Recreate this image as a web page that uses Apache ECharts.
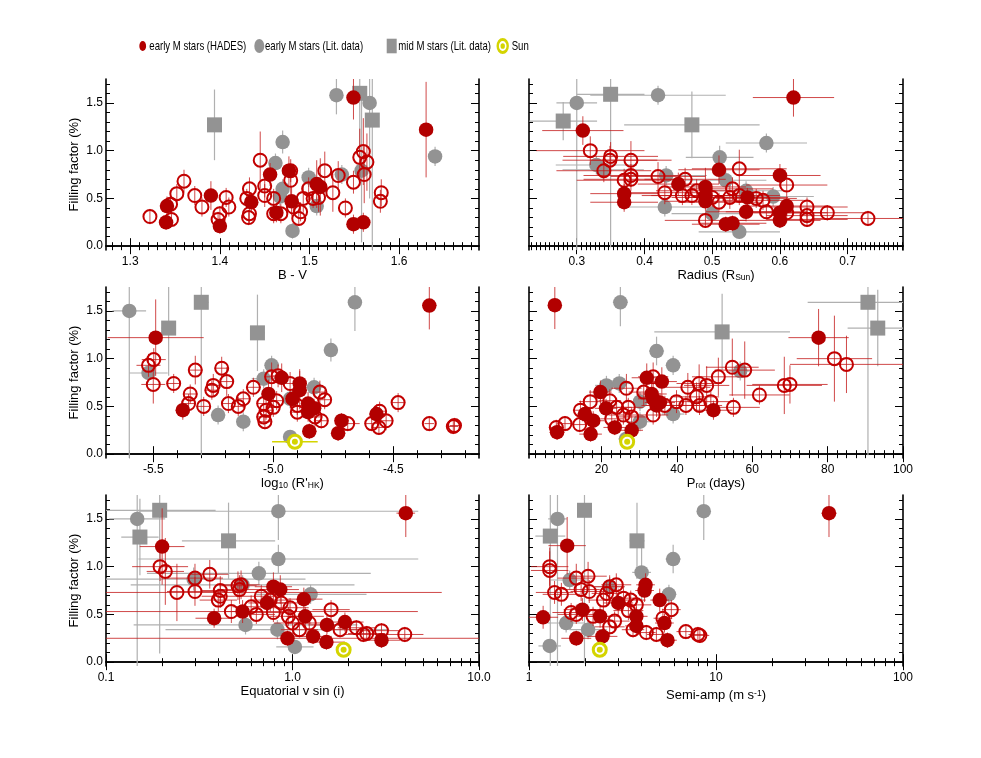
<!DOCTYPE html>
<html><head><meta charset="utf-8">
<script src="https://cdn.jsdelivr.net/npm/echarts@6/dist/echarts.min.js"></script>
<style>html,body{margin:0;padding:0;background:#fff}#c{width:981px;height:758px}</style>
</head><body><div id="c"></div>
<script>
// ---------------- DATA: [x, y, xErr, yErr] (log panels: xErr in dex) ----------------
const yTicks = [0.0, 0.5, 1.0, 1.5];
const legendNames = ['early M stars (HADES)', 'early M stars (Lit. data)', 'mid M stars (Lit. data)', 'Sun'];

// Panel 1: B - V
const bvTicks = [1.3, 1.4, 1.5, 1.6];
const bvFilled = [[1.549,1.556,0,0.23],[1.63,1.22,0,0.5],[1.477,0.79,0,0.15],[1.456,0.75,0,0.12],[1.508,0.65,0,0.25],[1.512,0.62,0,0.3],[1.39,0.53,0,0.15],[1.435,0.46,0,0.1],[1.48,0.47,0,0.15],[1.341,0.42,0,0.1],[1.34,0.25,0,0.08],[1.463,0.35,0,0.1],[1.40,0.21,0,0.08],[1.549,0.23,0,0.1],[1.56,0.25,0,0.1]];
const bvOpen = [[1.322,0.31,0,0.08],[1.345,0.44,0,0.1],[1.346,0.28,0,0.08],[1.352,0.55,0,0.1],[1.36,0.68,0,0.12],[1.372,0.53,0,0.1],[1.38,0.41,0,0.1],[1.40,0.34,0,0.08],[1.398,0.28,0,0.08],[1.407,0.51,0,0.1],[1.41,0.41,0,0.1],[1.43,0.50,0,0.1],[1.432,0.30,0,0.08],[1.433,0.34,0,0.1],[1.433,0.60,0,0.12],[1.445,0.90,0,0.3],[1.45,0.63,0,0.12],[1.45,0.53,0,0.12],[1.46,0.50,0,0.1],[1.46,0.34,0,0.1],[1.468,0.34,0,0.1],[1.479,0.79,0,0.12],[1.479,0.69,0,0.15],[1.482,0.41,0,0.1],[1.488,0.29,0,0.08],[1.49,0.36,0,0.1],[1.493,0.50,0,0.15],[1.499,0.60,0,0.12],[1.504,0.50,0,0.1],[1.517,0.79,0,0.2],[1.51,0.51,0,0.15],[1.526,0.56,0,0.2],[1.532,0.74,0,0.15],[1.54,0.40,0,0.1],[1.549,0.67,0,0.12],[1.556,0.93,0,0.3],[1.56,0.99,0,0.35],[1.564,0.88,0,0.3],[1.561,0.75,0,0.3],[1.58,0.56,0,0.14],[1.579,0.47,0,0.12]];
const bvLit = [[1.53,1.58,0,0.2],[1.567,1.50,0,1.0],[1.47,1.09,0,0.12],[1.64,0.94,0,0.1],[1.462,0.87,0,0.1],[1.558,0.79,0,0.75],[1.47,0.60,0,0.1],[1.467,0.52,0,0.1],[1.499,0.72,0,0.1],[1.508,0.42,0,0.1],[1.481,0.16,0,0.08],[1.536,0.75,0,0.1]];
const bvMid = [[1.394,1.27,0,0.37],[1.556,1.60,0,0.8],[1.57,1.32,0,1.4]];

// Panel 2: Radius
const radTicks = [0.3, 0.4, 0.5, 0.6, 0.7];
const radFilled = [[0.62,1.556,0.06,0.2],[0.309,1.21,0.06,0.15],[0.51,0.80,0.06,0.15],[0.60,0.74,0.06,0.12],[0.45,0.65,0.06,0.12],[0.49,0.62,0.06,0.2],[0.49,0.53,0.06,0.12],[0.49,0.47,0.06,0.1],[0.37,0.55,0.05,0.1],[0.37,0.46,0.05,0.1],[0.552,0.51,0.06,0.1],[0.55,0.36,0.06,0.1],[0.61,0.42,0.06,0.1],[0.60,0.27,0.06,0.08],[0.60,0.35,0.06,0.08],[0.52,0.23,0.05,0.08],[0.53,0.24,0.05,0.08]];
const radOpen = [[0.32,1.0,0.08,0.15],[0.35,0.94,0.07,0.15],[0.349,0.90,0.07,0.15],[0.38,0.90,0.06,0.2],[0.34,0.79,0.07,0.12],[0.38,0.74,0.07,0.12],[0.38,0.70,0.07,0.12],[0.37,0.69,0.07,0.12],[0.42,0.73,0.07,0.15],[0.43,0.56,0.07,0.12],[0.46,0.70,0.06,0.12],[0.456,0.53,0.06,0.1],[0.47,0.53,0.06,0.1],[0.49,0.27,0.06,0.08],[0.50,0.51,0.06,0.1],[0.51,0.46,0.06,0.1],[0.53,0.60,0.06,0.12],[0.526,0.51,0.06,0.12],[0.54,0.81,0.07,0.2],[0.565,0.50,0.06,0.1],[0.575,0.48,0.06,0.1],[0.58,0.36,0.06,0.08],[0.61,0.64,0.06,0.12],[0.61,0.35,0.06,0.1],[0.64,0.41,0.06,0.1],[0.64,0.32,0.06,0.08],[0.64,0.28,0.06,0.08],[0.67,0.35,0.06,0.08],[0.73,0.29,0.08,0.08],[0.477,0.58,0.06,0.12],[0.54,0.53,0.06,0.1]];
const radLit = [[0.30,1.50,0.03,1.55],[0.42,1.58,0.1,0.1],[0.58,1.08,0.06,0.1],[0.511,0.93,0.05,0.12],[0.329,0.85,0.06,0.1],[0.339,0.80,0.06,0.1],[0.432,0.74,0.06,0.1],[0.52,0.69,0.06,0.1],[0.55,0.58,0.06,0.1],[0.59,0.52,0.06,0.1],[0.43,0.41,0.06,0.1],[0.54,0.15,0.06,0.06],[0.50,0.34,0.06,0.1]];
const radMid = [[0.28,1.31,0.05,0.2],[0.35,1.59,0.05,1.6],[0.47,1.27,0.1,0.35]];

// Panel 3: log10(R'HK)
const rhkTicks = [-5.5, -5.0, -4.5];
const rhkFilled = [[-4.35,1.556,0.03,0.25],[-5.49,1.22,0.2,0.4],[-4.965,0.80,0.03,0.15],[-4.89,0.74,0.03,0.15],[-4.89,0.67,0.03,0.2],[-5.02,0.63,0.03,0.15],[-4.92,0.58,0.03,0.1],[-4.855,0.53,0.03,0.12],[-4.83,0.48,0.03,0.1],[-4.855,0.44,0.03,0.1],[-5.377,0.46,0.03,0.1],[-4.85,0.24,0.03,0.08],[-4.716,0.35,0.03,0.08],[-4.73,0.22,0.03,0.08],[-4.57,0.42,0.03,0.1]];
const rhkOpen = [[-5.52,0.93,0.05,0.12],[-5.498,0.99,0.05,0.12],[-5.50,0.73,0.05,0.2],[-5.415,0.74,0.03,0.1],[-5.346,0.63,0.03,0.1],[-5.325,0.88,0.03,0.15],[-5.353,0.53,0.03,0.1],[-5.29,0.50,0.03,0.1],[-5.25,0.72,0.03,0.12],[-5.256,0.67,0.03,0.1],[-5.215,0.90,0.03,0.12],[-5.194,0.76,0.03,0.15],[-5.187,0.53,0.03,0.1],[-5.146,0.50,0.03,0.1],[-5.125,0.58,0.03,0.1],[-5.083,0.70,0.03,0.1],[-5.04,0.39,0.03,0.08],[-5.035,0.34,0.03,0.08],[-5.04,0.53,0.03,0.1],[-5.03,0.46,0.03,0.1],[-5.0,0.49,0.03,0.1],[-4.986,0.56,0.03,0.1],[-5.007,0.81,0.03,0.15],[-4.98,0.82,0.03,0.12],[-4.93,0.74,0.03,0.12],[-4.90,0.44,0.03,0.1],[-4.90,0.51,0.03,0.1],[-4.826,0.39,0.03,0.1],[-4.80,0.35,0.03,0.08],[-4.806,0.65,0.03,0.12],[-4.786,0.57,0.03,0.1],[-4.69,0.32,0.05,0.08],[-4.59,0.32,0.03,0.08],[-4.557,0.45,0.03,0.1],[-4.56,0.28,0.03,0.08],[-4.53,0.35,0.03,0.1],[-4.48,0.54,0.03,0.1],[-4.35,0.32,0.02,0.08],[-4.25,0.29,0.02,0.08],[-4.245,0.30,0.02,0.08]];
const rhkLit = [[-5.60,1.50,0.07,1.55],[-4.66,1.59,0.02,0.3],[-4.76,1.09,0.02,0.12],[-5.007,0.93,0.03,0.1],[-5.52,0.85,0.08,0.1],[-5.04,0.79,0.05,0.1],[-4.83,0.70,0.05,0.1],[-5.23,0.41,0.03,0.1],[-5.125,0.34,0.03,0.1],[-4.93,0.18,0.02,0.06],[-4.93,0.58,0.03,0.1]];
const rhkMid = [[-5.436,1.32,0.03,0.5],[-5.30,1.59,0.03,1.6],[-5.066,1.27,0.03,0.4]];
const rhkSun = [[-4.91,0.13,0.095,0]];

// Panel 4: Prot (days)
const protTicks = [20, 40, 60, 80, 100];
const protFilled = [[7.6,1.56,1,0.25],[77.6,1.22,8,0.3],[32,0.80,4,0.15],[36,0.76,4,0.15],[19.7,0.65,3,0.12],[33.3,0.63,4,0.15],[33.7,0.58,4,0.12],[34.6,0.51,4,0.12],[35.5,0.54,4,0.1],[21.2,0.48,3,0.1],[15.6,0.42,2,0.1],[17.8,0.35,3,0.1],[49.7,0.46,5,0.1],[23.5,0.28,3,0.08],[28,0.25,3,0.08],[17.1,0.21,3,0.08],[8.2,0.23,2,0.08]];
const protOpen = [[8,0.28,2,0.08],[10.3,0.32,2,0.08],[14.4,0.46,2,0.1],[14.2,0.31,2,0.08],[17,0.55,3,0.12],[22.2,0.56,3,0.12],[24,0.49,4,0.1],[26.6,0.69,4,0.15],[27.1,0.49,4,0.1],[22.7,0.37,3,0.1],[25.8,0.41,4,0.1],[28,0.39,4,0.1],[31.2,0.65,4,0.15],[33.7,0.81,4,0.15],[33.7,0.41,4,0.1],[36.8,0.51,5,0.1],[39.9,0.55,5,0.12],[42.4,0.51,5,0.1],[42.9,0.70,6,0.15],[45.2,0.60,6,0.15],[45.9,0.74,6,0.2],[46,0.51,6,0.1],[47.9,0.72,6,0.2],[49,0.55,6,0.12],[51,0.81,7,0.2],[55,0.49,7,0.1],[54.7,0.91,7,0.3],[58,0.88,8,0.3],[61.9,0.62,8,0.1],[68.5,0.72,10,0.3],[70,0.73,10,0.2],[81.8,1.0,10,0.45],[85,0.94,15,0.3]];
const protLit = [[25,1.59,2,0.25],[34.6,1.08,2,0.15],[39,0.93,2,0.1],[56.8,0.87,3,0.1],[21.3,0.72,3,0.1],[24.7,0.74,3,0.1],[30.2,0.55,3,0.1],[39,0.42,3,0.1],[30.2,0.34,3,0.1],[26.5,0.16,2,0.06]];
const protMid = [[52,1.28,18,0.4],[90.7,1.59,16,1.6],[93.3,1.32,8,0.4]];
const protSun = [[26.8,0.13,0,0]];

// Panel 5: Equatorial v sin(i)
const vsiniTicks = [0.1, 1.0, 10.0];
const vsiniFilled = [[4.05,1.56,0.05,0.25],[0.2,1.21,0.12,0.4],[0.79,0.79,0.1,0.15],[0.86,0.76,0.1,0.15],[1.15,0.66,0.1,0.12],[0.73,0.62,0.1,0.12],[0.54,0.53,0.1,0.12],[1.17,0.48,0.1,0.1],[0.38,0.46,0.1,0.1],[1.53,0.39,0.1,0.1],[1.91,0.42,0.1,0.1],[0.94,0.25,1.1,0.08],[1.29,0.27,0.1,0.08],[1.52,0.21,0.1,0.08],[3.0,0.23,0.1,0.08]];
const vsiniOpen = [[0.195,1.0,0.15,0.15],[0.208,0.95,0.1,0.35],[0.24,0.73,1.42,0.3],[0.30,0.88,0.15,0.15],[0.30,0.74,0.15,0.15],[0.36,0.92,0.1,0.15],[0.41,0.75,0.1,0.15],[0.40,0.65,0.1,0.12],[0.41,0.69,0.1,0.12],[0.47,0.53,1.0,0.12],[0.51,0.80,0.1,0.15],[0.52,0.76,0.1,0.15],[0.53,0.81,0.1,0.15],[0.60,0.58,0.1,0.12],[0.64,0.50,0.1,0.1],[0.68,0.69,0.1,0.12],[0.76,0.65,0.1,0.12],[0.79,0.52,0.1,0.1],[0.87,0.62,0.1,0.12],[0.97,0.57,0.1,0.1],[0.95,0.48,0.1,0.1],[1.0,0.41,0.1,0.1],[1.09,0.34,0.1,0.08],[1.23,0.41,0.1,0.1],[1.61,0.55,0.1,0.1],[1.8,0.34,0.1,0.08],[2.2,0.36,0.1,0.08],[2.4,0.29,0.1,0.08],[2.5,0.30,0.1,0.08],[3.0,0.33,0.1,0.08],[4.0,0.29,0.1,0.08]];
const vsiniLit = [[0.147,1.50,0.15,1.55],[0.84,1.58,0.75,0.3],[0.84,1.08,0.75,0.15],[0.66,0.93,0.6,0.12],[0.295,0.87,0.6,0.12],[0.54,0.81,0.6,0.1],[1.25,0.71,0.3,0.1],[0.56,0.39,0.6,0.1],[0.83,0.34,0.6,0.1],[1.03,0.16,0.1,0.06]];
const vsiniMid = [[0.152,1.31,0.1,0.4],[0.194,1.59,0.3,1.5],[0.454,1.27,0.25,0.4]];
const vsiniSun = [[1.88,0.13,0,0]];

// Panel 6: Semi-amplitude (m/s)
const kTicks = [1, 10, 100];
const kFilled = [[40.2,1.56,0.04,0.25],[1.6,1.22,0.1,0.3],[4.2,0.81,0.05,0.12],[4.15,0.75,0.05,0.12],[5.0,0.65,0.05,0.12],[3.0,0.62,0.08,0.15],[1.93,0.55,0.1,0.12],[1.19,0.47,0.08,0.12],[2.4,0.48,0.1,0.12],[3.75,0.48,0.06,0.1],[5.3,0.41,0.05,0.1],[3.75,0.38,0.06,0.1],[1.79,0.25,0.08,0.08],[2.47,0.27,0.08,0.08],[5.5,0.23,0.05,0.08]];
const kOpen = [[1.29,1.0,0.1,0.2],[1.29,0.96,0.1,0.2],[1.37,0.73,0.1,0.12],[1.49,0.71,0.1,0.12],[1.79,0.88,0.1,0.15],[2.07,0.90,0.1,0.15],[1.9,0.76,0.1,0.12],[2.1,0.74,0.1,0.12],[1.68,0.52,0.1,0.1],[1.79,0.50,0.1,0.1],[2.7,0.79,0.08,0.12],[2.93,0.81,0.08,0.12],[2.6,0.72,0.08,0.12],[2.5,0.65,0.08,0.12],[3.2,0.67,0.08,0.12],[3.5,0.65,0.08,0.1],[3.75,0.60,0.08,0.1],[2.87,0.43,0.08,0.1],[2.7,0.37,0.08,0.1],[3.6,0.34,0.06,0.08],[4.24,0.31,0.05,0.08],[4.8,0.29,0.05,0.08],[5.2,0.46,0.05,0.1],[5.77,0.55,0.05,0.1],[6.9,0.32,0.05,0.08],[8.0,0.29,0.05,0.08],[8.2,0.28,0.05,0.08],[3.4,0.54,0.08,0.1],[2.2,0.48,0.1,0.1]];
const kLit = [[1.42,1.50,0.05,1.6],[8.6,1.58,0.03,0.3],[5.9,1.08,0.04,0.15],[4.0,0.94,0.05,0.3],[5.6,0.71,0.04,0.1],[1.65,0.86,0.1,0.1],[2.7,0.79,0.08,0.1],[1.58,0.41,0.1,0.1],[2.07,0.34,0.1,0.1],[1.29,0.17,0.06,0.06]];
const kMid = [[1.30,1.32,0.08,1.4],[1.98,1.59,0.04,1.6],[3.78,1.27,0.04,0.4]];
const kSun = [[2.39,0.13,0,0]];

// ---------------- STYLE / LAYOUT ----------------
const FONT = "'Liberation Sans',Arial,sans-serif";
const RED = '#b20000', RED_RING = '#c20000', RED_BAR = 'rgba(196,28,28,0.8)';
const GRAY = '#939393', GRAY_BAR = '#b0b0b0', SUN = '#d4d400';
const Y_MIN = -0.04, Y_MAX = 1.75;
const GW = 374, GH = 171;
const gridPos = [[106,79],[529,79],[106,287],[529,287],[106,495],[529,495]];

function steps(a, b, s) { const out = []; const n = Math.round((b - a) / s); for (let i = 0; i <= n; i++) out.push(Math.round((a + i * s) * 1e6) / 1e6); return out; }
const yMinor = steps(0, 1.7, 0.1);

const rich = {
  a: {fontSize: 13, fontFamily: FONT, color: '#000', lineHeight: 13, verticalAlign: 'top', padding: [0,0,3,0]},
  s: {fontSize: 8.5, fontFamily: FONT, color: '#000', lineHeight: 9, verticalAlign: 'bottom'},
  b: {fontSize: 13, fontFamily: FONT, color: '#000', lineHeight: 13, verticalAlign: 'bottom', padding: [4,0,0,0]},
  p: {fontSize: 8.5, fontFamily: FONT, color: '#000', lineHeight: 9, verticalAlign: 'top'}
};

const panels = [
  {type:'value', min:1.273, max:1.689, major:bvTicks, minor:steps(1.28,1.68,0.01), fmt:v=>v.toFixed(1), name:'{a|B - V}', gap:17,
   filled:bvFilled, open:bvOpen, lit:bvLit, mid:bvMid, sun:null},
  {type:'value', min:0.2295, max:0.7817, major:radTicks, minor:steps(0.2333,0.78,0.1/15), fmt:v=>v.toFixed(1), name:'{a|Radius (R}{s|Sun}{a|)}', gap:17,
   filled:radFilled, open:radOpen, lit:radLit, mid:radMid, sun:null},
  {type:'value', min:-5.697, max:-4.143, major:rhkTicks, minor:steps(-5.6,-4.2,0.1), fmt:v=>v.toFixed(1), name:"{a|log}{s|10}{a| (R'}{s|HK}{a|)}", gap:17,
   filled:rhkFilled, open:rhkOpen, lit:rhkLit, mid:rhkMid, sun:rhkSun},
  {type:'value', min:0.75, max:100, major:protTicks, minor:steps(2.5,97.5,2.5), fmt:v=>String(Math.round(v)), name:'{a|P}{s|rot}{a| (days)}', gap:17,
   filled:protFilled, open:protOpen, lit:protLit, mid:protMid, sun:protSun},
  {type:'log', min:0.1, max:10, major:vsiniTicks, minor:[0.2,0.3,0.4,0.5,0.6,0.7,0.8,0.9,2,3,4,5,6,7,8,9], fmt:v=>v.toFixed(1), name:'{a|Equatorial v sin (i)}', gap:17,
   filled:vsiniFilled, open:vsiniOpen, lit:vsiniLit, mid:vsiniMid, sun:vsiniSun},
  {type:'log', min:1, max:100, major:kTicks, minor:[2,3,4,5,6,7,8,9,20,30,40,50,60,70,80,90], fmt:v=>String(Math.round(v)), name:'{b|Semi-amp (m s}{p|-1}{b|)}', gap:15,
   filled:kFilled, open:kOpen, lit:kLit, mid:kMid, sun:kSun}
];

const AX_LINE = {show:true, lineStyle:{color:'#000', width:1.6}};
const TICK_STYLE = {color:'#000', width:1};

const grid = [], xAxis = [], yAxis = [], series = [];
panels.forEach((p, i) => {
  grid.push({left: gridPos[i][0], top: gridPos[i][1], width: (i % 2 === 0) ? 373 : GW, height: GH, containLabel: false});
  const base = {gridIndex: i, type: p.type, min: p.min, max: p.max, splitLine: {show: false}};
  if (p.type === 'log') base.logBase = 10;
  xAxis.push(Object.assign({}, base, {position:'bottom', axisLine: AX_LINE,
    axisTick:{show:true, inside:true, length:8, customValues:p.major, lineStyle:TICK_STYLE},
    axisLabel:{show:true, customValues:p.major, formatter:p.fmt, margin:6, color:'#000', fontSize:12, fontFamily:FONT},
    name:p.name, nameLocation:'middle', nameGap:p.gap, nameTextStyle:{rich: rich}}));
  xAxis.push(Object.assign({}, base, {position:'bottom', axisLine:{show:false},
    axisTick:{show:true, inside:true, length:4, customValues:p.minor, lineStyle:TICK_STYLE}, axisLabel:{show:false}}));
  xAxis.push(Object.assign({}, base, {position:'top', axisLine: AX_LINE,
    axisTick:{show:true, inside:true, length:8, customValues:p.major, lineStyle:TICK_STYLE}, axisLabel:{show:false}}));
  xAxis.push(Object.assign({}, base, {position:'top', axisLine:{show:false},
    axisTick:{show:true, inside:true, length:4, customValues:p.minor, lineStyle:TICK_STYLE}, axisLabel:{show:false}}));

  const yb = {gridIndex: i, type:'value', min:Y_MIN, max:Y_MAX, splitLine:{show:false}};
  const leftCol = (i % 2 === 0);
  yAxis.push(Object.assign({}, yb, {position:'left', axisLine: AX_LINE,
    axisTick:{show:true, inside:true, length:8, customValues:yTicks, lineStyle:TICK_STYLE},
    axisLabel:{show:leftCol, customValues:yTicks, formatter:v=>v.toFixed(1), margin:3, color:'#000', fontSize:12, fontFamily:FONT},
    name: leftCol ? 'Filling factor (%)' : '', nameLocation:'middle', nameRotate:90, nameGap:25,
    nameTextStyle:{fontSize:13, fontFamily:FONT, color:'#000'}}));
  yAxis.push(Object.assign({}, yb, {position:'left', axisLine:{show:false},
    axisTick:{show:true, inside:true, length:4, customValues:yMinor, lineStyle:TICK_STYLE}, axisLabel:{show:false}}));
  yAxis.push(Object.assign({}, yb, {position:'right', axisLine: AX_LINE,
    axisTick:{show:true, inside:true, length:8, customValues:yTicks, lineStyle:TICK_STYLE}, axisLabel:{show:false}}));
  yAxis.push(Object.assign({}, yb, {position:'right', axisLine:{show:false},
    axisTick:{show:true, inside:true, length:4, customValues:yMinor, lineStyle:TICK_STYLE}, axisLabel:{show:false}}));

  const xi = 4 * i, yi = 4 * i, isLog = p.type === 'log';
  const errSeries = (data, color, z, width) => ({
    type:'custom', xAxisIndex:xi, yAxisIndex:yi, data:data, z:z, silent:true, encode:{x:0, y:1},
    renderItem: (params, api) => {
      const x = api.value(0), y = api.value(1), dx = api.value(2), dy = api.value(3);
      const cs = params.coordSys;
      const clx = v => Math.max(cs.x, Math.min(cs.x + cs.width, v));
      const cly = v => Math.max(cs.y, Math.min(cs.y + cs.height, v));
      const style = {stroke: color, lineWidth: width || 1};
      const ch = [];
      if (dx > 0) {
        const lo = isLog ? x / Math.pow(10, dx) : x - dx;
        const hi = isLog ? x * Math.pow(10, dx) : x + dx;
        const a = api.coord([lo, y]), b = api.coord([hi, y]);
        ch.push({type:'line', shape:{x1:clx(a[0]), y1:a[1], x2:clx(b[0]), y2:b[1]}, style: style});
      }
      if (dy > 0) {
        const a = api.coord([x, y - dy]), b = api.coord([x, y + dy]);
        ch.push({type:'line', shape:{x1:a[0], y1:cly(a[1]), x2:b[0], y2:cly(b[1])}, style: style});
      }
      return {type:'group', children: ch};
    }
  });
  const pts = d => d.map(r => [r[0], r[1]]);
  const sc = (name, data, symbol, size, itemStyle, z) => ({type:'scatter', name:name, xAxisIndex:xi, yAxisIndex:yi,
    data: pts(data), symbol:symbol, symbolSize:size, itemStyle:itemStyle, z:z, silent:true});

  series.push(sc(legendNames[0], p.filled, 'circle', 14.5, {color:RED, opacity:1}, 6));
  series.push(sc(legendNames[0], p.open, 'circle', 13, {color:'rgba(0,0,0,0)', borderColor:RED_RING, borderWidth:2, opacity:1}, 5));
  series.push(sc(legendNames[1], p.lit, 'circle', 14.5, {color:GRAY, opacity:1}, 3));
  series.push(sc(legendNames[2], p.mid, 'rect', 15, {color:GRAY, opacity:1}, 3));
  series.push(errSeries(p.lit.concat(p.mid), GRAY_BAR, 2, 1.2));
  series.push(errSeries(p.open.concat(p.filled), RED_BAR, 4, 1));
  if (p.sun) {
    series.push(errSeries(p.sun, SUN, 7, 1.6));
    series.push(sc(legendNames[3], p.sun, 'circle', 13, {color:'#ffffff', borderColor:SUN, borderWidth:3, opacity:1}, 8));
    series.push(sc(legendNames[3], p.sun, 'circle', 6, {color:SUN, opacity:1}, 9));
  }
});

// ---------- legend (key) drawn as graphic so the narrow lettering of the original can be matched ----------
const LEG_FONT = "13px 'Liberation Sans', Arial, sans-serif";
const mctx = document.createElement('canvas').getContext('2d');
mctx.font = LEG_FONT;
const legScale = 97 / mctx.measureText(legendNames[0]).width;
const LEG_Y = 46;
const legText = (x, t) => ({type:'text', x:x, y:LEG_Y, scaleX:legScale, silent:true,
  style:{text:t, font:LEG_FONT, fill:'#000', verticalAlign:'middle', align:'left'}});
const graphic = [
  {type:'circle', x:142.7, y:LEG_Y, scaleY:1.45, shape:{cx:0, cy:0, r:3.4}, style:{fill:RED}, silent:true},
  legText(149.3, legendNames[0]),
  {type:'circle', x:259.3, y:LEG_Y, scaleY:1.4, shape:{cx:0, cy:0, r:5}, style:{fill:GRAY}, silent:true},
  legText(265, legendNames[1]),
  {type:'rect', x:386.7, y:LEG_Y - 7.3, shape:{x:0, y:0, width:10, height:14.6}, style:{fill:GRAY}, silent:true},
  legText(398.3, legendNames[2]),
  {type:'circle', x:502.7, y:LEG_Y, scaleY:1.3, shape:{cx:0, cy:0, r:5}, style:{fill:'#ffffff', stroke:SUN, lineWidth:2.4}, silent:true},
  {type:'circle', x:502.7, y:LEG_Y, scaleY:1.3, shape:{cx:0, cy:0, r:2.2}, style:{fill:SUN}, silent:true},
  legText(511.7, legendNames[3])
];

const chart = echarts.init(document.getElementById('c'), null, {renderer:'canvas'});
chart.setOption({backgroundColor:'#ffffff', animation:false, graphic:graphic, grid:grid, xAxis:xAxis, yAxis:yAxis, series:series});
</script></body></html>
